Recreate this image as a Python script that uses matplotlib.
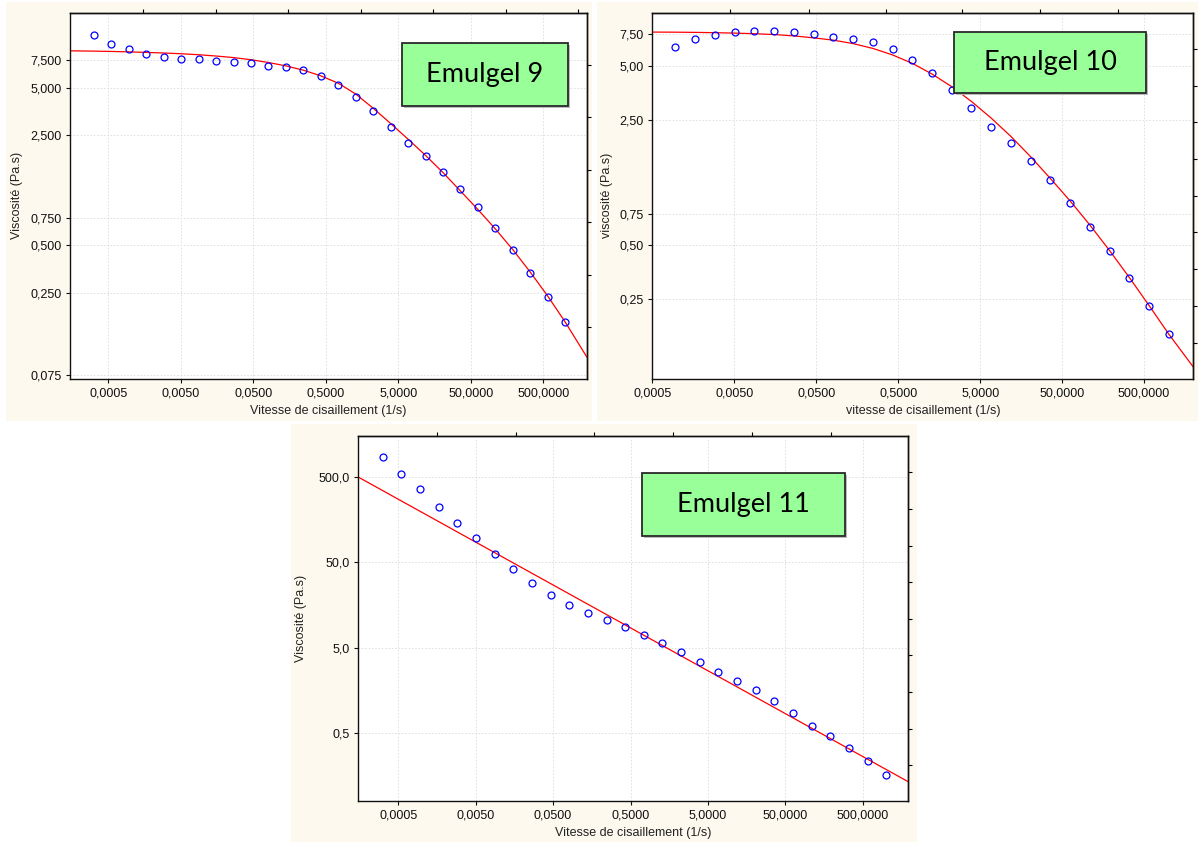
import matplotlib
matplotlib.use("Agg")
import matplotlib.pyplot as plt
from matplotlib.patches import Rectangle
from matplotlib.ticker import FixedLocator, FixedFormatter, NullLocator

plt.rcParams.update({
    "font.family": ["Liberation Sans", "DejaVu Sans"],
    "font.size": 9,
    "axes.linewidth": 1.0,
})

W, H = 1200, 843
CREAM = "#FDF9EF"
BOX_GREEN = "#99FF99"

# ── shear rates (1/s) ───────────────────────────────────────────────────────
shear = [0.000316, 0.000551, 0.000958, 0.00167, 0.00290, 0.00505, 0.00880,
         0.0153, 0.0267, 0.0464, 0.0808, 0.141, 0.245, 0.426, 0.742, 1.29,
         2.25, 3.91, 6.81, 11.9, 20.6, 35.9, 62.6, 109.0, 190.0, 330.0,
         575.0, 1000.0]

# ── Emulgel 9 ───────────────────────────────────────────────────────────────
visc_e9 = [10.9, 9.48, 8.77, 8.19, 7.87, 7.61, 7.58, 7.39, 7.28, 7.18, 6.90,
           6.77, 6.48, 5.91, 5.18, 4.37, 3.54, 2.82, 2.24, 1.84, 1.47, 1.14,
           0.875, 0.643, 0.469, 0.332, 0.233, 0.162]
fit_e9_x = [0.000148] + shear + [1985.0]
fit_e9_y = [8.59, 8.55, 8.51, 8.46, 8.39, 8.32, 8.23, 8.11, 7.96, 7.78, 7.54,
            7.24, 6.89, 6.47, 5.96, 5.35, 4.57, 3.71, 2.97, 2.36, 1.86, 1.45,
            1.107, 0.844, 0.635, 0.469, 0.338, 0.238, 0.163, 0.0978]

# ── Emulgel 10 (first two rates not recorded) ───────────────────────────────
shear_e10 = shear[2:]
visc_e10 = [6.40, 7.09, 7.40, 7.76, 7.83, 7.80, 7.76, 7.54, 7.24, 7.06, 6.77,
            6.19, 5.40, 4.55, 3.67, 2.90, 2.28, 1.85, 1.48, 1.15, 0.857,
            0.630, 0.463, 0.327, 0.229, 0.160]
fit_e10_x = [0.0005] + shear_e10 + [1990.0]
fit_e10_y = [7.72, 7.71, 7.69, 7.66, 7.62, 7.56, 7.48, 7.35, 7.17, 6.96,
             6.66, 6.26, 5.76, 5.17, 4.51, 3.83, 3.17, 2.56, 2.02, 1.56, 1.18,
             0.884, 0.649, 0.467, 0.331, 0.231, 0.160, 0.105]

# ── Emulgel 11 (power law) ──────────────────────────────────────────────────
visc_e11 = [843, 542, 356, 219, 145, 96.7, 62.9, 41.3, 28.6, 20.8, 15.8,
            12.7, 10.5, 8.67, 7.04, 5.63, 4.42, 3.37, 2.62, 2.06, 1.59, 1.19,
            0.855, 0.612, 0.460, 0.333, 0.237, 0.162]
fit_e11_x = [0.00015, 1930.0]
fit_e11_y = [500.0, 0.136]

# ── axis ticks ──────────────────────────────────────────────────────────────
x_ticks = [0.0005, 0.005, 0.05, 0.5, 5, 50, 500]
x_labels = ["0,0005", "0,0050", "0,0500", "0,5000", "5,0000", "50,0000",
            "500,0000"]
y9_ticks = [7.5, 5, 2.5, 0.75, 0.5, 0.25, 0.075]
y9_labels = ["7,500", "5,000", "2,500", "0,750", "0,500", "0,250", "0,075"]
y10_ticks = [7.5, 5, 2.5, 0.75, 0.5, 0.25]
y10_labels = ["7,50", "5,00", "2,50", "0,75", "0,50", "0,25"]
y11_ticks = [500, 50, 5, 0.5]
y11_labels = ["500,0", "50,0", "5,0", "0,5"]


def px_rect(l, t, r, b):
    return [l / W, 1 - b / H, (r - l) / W, (b - t) / H]


def panel(fig, ax_px, cream_px, box_px, name, x, y, fx, fy, xlim, ylim,
          yt, yl, top_t, right_t, xlabel, ylabel, ylab_x):
    fig.add_artist(Rectangle((cream_px[0] / W, 1 - cream_px[3] / H),
                             (cream_px[2] - cream_px[0]) / W,
                             (cream_px[3] - cream_px[1]) / H,
                             transform=fig.transFigure, facecolor=CREAM,
                             edgecolor="none", zorder=-1))
    ax = fig.add_axes(px_rect(*ax_px))
    ax.set_facecolor("white")
    ax.set_xscale("log")
    ax.set_yscale("log")
    ax.plot(fx, fy, color="#FF0000", lw=0.9, zorder=2)
    ax.plot(x, y, ls="none", marker="o", ms=5, mfc="none", mec="#0000FF",
            mew=0.9, zorder=3)
    ax.set_xlim(*xlim)
    ax.set_ylim(*ylim)
    ax.xaxis.set_major_locator(FixedLocator(x_ticks))
    ax.xaxis.set_major_formatter(FixedFormatter(x_labels))
    ax.yaxis.set_major_locator(FixedLocator(yt))
    ax.yaxis.set_major_formatter(FixedFormatter(yl))
    ax.xaxis.set_minor_locator(NullLocator())
    ax.yaxis.set_minor_locator(NullLocator())
    ax.tick_params(direction="out", length=3, width=0.8, pad=3,
                   labelsize=9, colors="#111111")
    ax.grid(True, color="#DCDCDC", ls=(0, (2, 2)), lw=0.6)
    ax.set_axisbelow(True)
    for sp in ax.spines.values():
        sp.set_color("#111111")

    top = ax.secondary_xaxis("top")
    top.set_xticks(top_t)
    top.set_xticklabels([])
    top.xaxis.set_minor_locator(NullLocator())
    top.tick_params(direction="out", length=3, width=0.8)
    right = ax.secondary_yaxis("right")
    right.set_yticks(right_t)
    right.set_yticklabels([])
    right.yaxis.set_minor_locator(NullLocator())
    right.tick_params(direction="out", length=3, width=0.8)

    ax.set_xlabel(xlabel, fontsize=9, color="#222222")
    ax.xaxis.set_label_coords(0.5, -0.072)
    ax.set_ylabel(ylabel, fontsize=9, color="#222222")
    ax.yaxis.set_label_coords(ylab_x, 0.5)

    # green caption box sits on top of the curves
    l, t, r, b = box_px
    fig.add_artist(Rectangle(((l + 2) / W, 1 - (b + 2) / H), (r - l) / W,
                             (b - t) / H, transform=fig.transFigure,
                             facecolor="#BBBBBB", edgecolor="none",
                             zorder=4))
    fig.add_artist(Rectangle((l / W, 1 - b / H), (r - l) / W, (b - t) / H,
                             transform=fig.transFigure, facecolor=BOX_GREEN,
                             edgecolor="#2A2A2A", lw=1.3, zorder=5))
    fig.text((l + r) / 2 / W, 1 - (t + b) / 2 / H, name, ha="center",
             va="center", fontsize=19.5, family=["Lato", "DejaVu Sans"],
             color="black", zorder=6)
    return ax


fig = plt.figure(figsize=(W / 100, H / 100), dpi=100)
fig.patch.set_facecolor("white")

panel(fig, (70, 12.7, 586.7, 379), (6, 2, 592, 421), (402, 43, 568, 106),
      "Emulgel 9", shear, visc_e9, fit_e9_x, fit_e9_y,
      (0.000148, 1985), (0.0707, 15.0), y9_ticks, y9_labels,
      [0.00152, 0.0152, 0.152, 1.52, 15.2, 152, 1520],
      [7.03, 3.26, 1.51, 0.70, 0.325, 0.151],
      "Vitesse de cisaillement (1/s)", "Viscosité (Pa.s)", -0.091)

panel(fig, (652.3, 12.7, 1193.3, 379), (597, 2, 1198, 421),
      (954, 32, 1146, 93), "Emulgel 10", shear_e10, visc_e10,
      fit_e10_x, fit_e10_y, (0.0005, 1990), (0.09, 9.9),
      y10_ticks, y10_labels,
      [0.00447, 0.0404, 0.35, 3.03, 26.7, 238],
      [6.2, 3.87, 2.42, 1.51, 0.94, 0.59, 0.367, 0.229, 0.143],
      "vitesse de cisaillement (1/s)", "viscosité (Pa.s)", -0.073)

panel(fig, (357.7, 435.7, 908.3, 801), (291, 424, 917, 842),
      (642, 473, 845, 536), "Emulgel 11", shear, visc_e11,
      fit_e11_x, fit_e11_y, (0.00015, 1930), (0.081, 1510),
      y11_ticks, y11_labels,
      [0.00157, 0.0165, 0.170, 1.77, 18.7, 194],
      [563, 210, 78.4, 29.3, 10.9, 4.08, 1.52, 0.569, 0.212],
      "Vitesse de cisaillement (1/s)", "Viscosité (Pa.s)", -0.0926)

fig.savefig("out.png", dpi=100, facecolor="white")
